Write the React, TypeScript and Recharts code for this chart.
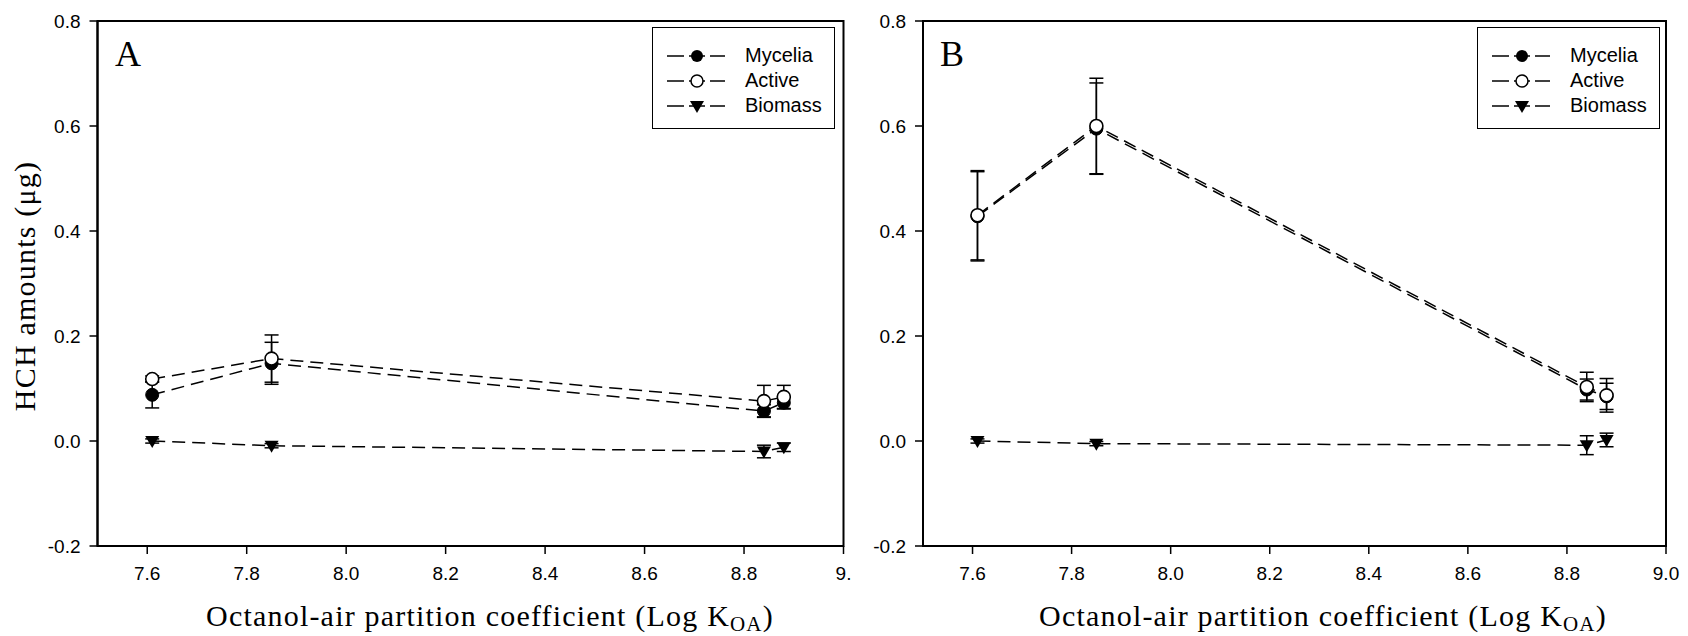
import React from 'react';
import { LineChart, Line, XAxis, YAxis, ErrorBar, ReferenceArea } from 'recharts';

// log KOA of alpha, gamma, delta, beta HCH
const logKoa = [7.61, 7.85, 8.84, 8.88];

// panel A
const myceliaA = [0.088, 0.148, 0.057, 0.073];
const myceliaAErr = [0.025, 0.04, 0.012, 0.012];
const activeA = [0.118, 0.157, 0.076, 0.084];
const activeAErr = [0.006, 0.045, 0.03, 0.022];
const biomassA = [0.0, -0.009, -0.02, -0.012];
const biomassAErr = [0.004, 0.004, 0.012, 0.008];

// panel B
const myceliaB = [0.428, 0.595, 0.098, 0.085];
const myceliaBErr = [0.085, 0.087, 0.02, 0.025];
const activeB = [0.43, 0.6, 0.103, 0.087];
const activeBErr = [0.085, 0.091, 0.028, 0.032];
const biomassB = [0.0, -0.005, -0.008, 0.002];
const biomassBErr = [0.004, 0.004, 0.018, 0.013];

const xTicks = [7.6, 7.8, 8.0, 8.2, 8.4, 8.6, 8.8, 9.0];
const yTicks = [-0.2, 0, 0.2, 0.4, 0.6, 0.8];
const seriesNames = ['Mycelia', 'Active', 'Biomass'];

const SANS = '"Liberation Sans", Arial, sans-serif';
const SERIF = '"Liberation Serif", "Times New Roman", serif';
const DASH = '13 7';

const buildRows = (myc: number[], mycErr: number[], act: number[], actErr: number[], bio: number[], bioErr: number[]) =>
  logKoa.map((x, i) => ({
    x,
    myc: myc[i],
    mycErr: mycErr[i],
    act: act[i],
    actErr: actErr[i],
    bio: bio[i],
    bioErr: bioErr[i],
  }));

const dataA = buildRows(myceliaA, myceliaAErr, activeA, activeAErr, biomassA, biomassAErr);
const dataB = buildRows(myceliaB, myceliaBErr, activeB, activeBErr, biomassB, biomassBErr);

const filledDot = (p: any) =>
  p.cx == null ? null : <circle key={'f' + p.index} cx={p.cx} cy={p.cy} r={6.5} fill="#000" stroke="#000" strokeWidth={1} />;
const openDot = (p: any) =>
  p.cx == null ? null : <circle key={'o' + p.index} cx={p.cx} cy={p.cy} r={6.5} fill="#fff" stroke="#000" strokeWidth={1.6} />;
const triDot = (p: any) =>
  p.cx == null ? null : (
    <polygon
      key={'t' + p.index}
      points={`${p.cx - 7},${p.cy - 5} ${p.cx + 7},${p.cy - 5} ${p.cx},${p.cy + 7}`}
      fill="#000"
    />
  );

function LegendIcon({ kind }: { kind: number }) {
  return (
    <svg width={58} height={16} style={{ display: 'block' }}>
      <line x1={0} y1={8} x2={17} y2={8} stroke="#000" strokeWidth={1.5} />
      <line x1={22} y1={8} x2={38} y2={8} stroke="#000" strokeWidth={1.5} />
      <line x1={43} y1={8} x2={58} y2={8} stroke="#000" strokeWidth={1.5} />
      {kind === 0 && <circle cx={30} cy={8} r={6} fill="#000" />}
      {kind === 1 && <circle cx={30} cy={8} r={6} fill="#fff" stroke="#000" strokeWidth={1.5} />}
      {kind === 2 && <polygon points="23,3 37,3 30,15" fill="#000" />}
    </svg>
  );
}

function LegendBox({ left }: { left: number }) {
  return (
    <div
      style={{
        position: 'absolute',
        left,
        top: 27,
        width: 183,
        height: 102,
        border: '1.5px solid #000',
        background: '#fff',
        boxSizing: 'border-box',
        paddingTop: 15,
      }}
    >
      {seriesNames.map((name, i) => (
        <div key={name} style={{ display: 'flex', alignItems: 'center', height: 25 }}>
          <div style={{ marginLeft: 14, width: 58 }}>
            <LegendIcon kind={i} />
          </div>
          <span style={{ marginLeft: 20, fontFamily: SANS, fontSize: 20, color: '#000' }}>{name}</span>
        </div>
      ))}
    </div>
  );
}

type PanelProps = {
  data: any[];
  left: number;
  width: number;
  yAxisWidth: number;
  marginRight: number;
  lastTick: string;
  titleX: number;
  showYLabel: boolean;
};

function Panel({ data, left, width, yAxisWidth, marginRight, lastTick, titleX, showYLabel }: PanelProps) {
  const tickStyle = { fontFamily: SANS, fontSize: 19, fill: '#000' };
  return (
    <div style={{ position: 'absolute', left, top: 0 }}>
      <LineChart width={width} height={636} data={data} margin={{ top: 21, right: marginRight, bottom: 0, left: 0 }}>
        <XAxis
          type="number"
          dataKey="x"
          domain={[7.5, 9]}
          ticks={xTicks}
          allowDataOverflow
          tick={tickStyle}
          tickSize={8}
          tickMargin={13}
          tickFormatter={(v: number) => (v === 9 ? lastTick : v.toFixed(1))}
          axisLine={{ stroke: '#000', strokeWidth: 2 }}
          tickLine={{ stroke: '#000', strokeWidth: 1.5 }}
          height={90}
          label={{
            content: () => (
              <text x={titleX} y={626} textAnchor="middle" fontFamily={SERIF} fontSize={30} letterSpacing={1.2} fill="#000">
                <tspan>Octanol-air partition coefficient (Log K</tspan>
                <tspan fontSize={21} baselineShift="-5">OA</tspan>
                <tspan>)</tspan>
              </text>
            ),
          }}
        />
        <YAxis
          type="number"
          domain={[-0.2, 0.8]}
          ticks={yTicks}
          allowDataOverflow
          width={yAxisWidth}
          tick={tickStyle}
          tickSize={8}
          tickMargin={9}
          tickFormatter={(v: number) => v.toFixed(1)}
          axisLine={{ stroke: '#000', strokeWidth: 2 }}
          tickLine={{ stroke: '#000', strokeWidth: 1.5 }}
          label={
            showYLabel
              ? {
                  content: () => (
                    <text
                      x={24}
                      y={286}
                      transform="rotate(-90, 24, 286)"
                      textAnchor="middle"
                      dominantBaseline="central"
                      fontFamily={SERIF}
                      fontSize={30}
                      letterSpacing={1.2}
                      fill="#000"
                    >
                      HCH amounts (μg)
                    </text>
                  ),
                }
              : undefined
          }
        />
        <ReferenceArea x1={7.5} x2={9} y1={-0.2} y2={0.8} fill="none" stroke="#000" strokeWidth={2} ifOverflow="visible" />
        <Line
          dataKey="myc"
          type="linear"
          stroke="#000"
          strokeWidth={1.5}
          strokeDasharray={DASH}
          dot={filledDot}
          activeDot={false}
          isAnimationActive={false}
        >
          <ErrorBar dataKey="mycErr" direction="y" width={7} stroke="#000" strokeWidth={1.5} isAnimationActive={false} />
        </Line>
        <Line
          dataKey="act"
          type="linear"
          stroke="#000"
          strokeWidth={1.5}
          strokeDasharray={DASH}
          dot={openDot}
          activeDot={false}
          isAnimationActive={false}
        >
          <ErrorBar dataKey="actErr" direction="y" width={7} stroke="#000" strokeWidth={1.5} isAnimationActive={false} />
        </Line>
        <Line
          dataKey="bio"
          type="linear"
          stroke="#000"
          strokeWidth={1.5}
          strokeDasharray={DASH}
          dot={triDot}
          activeDot={false}
          isAnimationActive={false}
        >
          <ErrorBar dataKey="bioErr" direction="y" width={7} stroke="#000" strokeWidth={1.5} isAnimationActive={false} />
        </Line>
      </LineChart>
    </div>
  );
}

export default function App() {
  return (
    <div style={{ position: 'absolute', left: 0, top: 0, width: 1688, height: 636, background: '#fff' }}>
      <Panel data={dataA} left={0} width={860} yAxisWidth={97.5} marginRight={16.5} lastTick="9." titleX={490} showYLabel />
      <Panel data={dataB} left={860} width={828} yAxisWidth={63} marginRight={22} lastTick="9.0" titleX={463} showYLabel={false} />
      <LegendBox left={652} />
      <LegendBox left={1477} />
      <div style={{ position: 'absolute', left: 115, top: 36, fontFamily: SERIF, fontSize: 36, lineHeight: 1 }}>A</div>
      <div style={{ position: 'absolute', left: 940, top: 36, fontFamily: SERIF, fontSize: 36, lineHeight: 1 }}>B</div>
    </div>
  );
}
